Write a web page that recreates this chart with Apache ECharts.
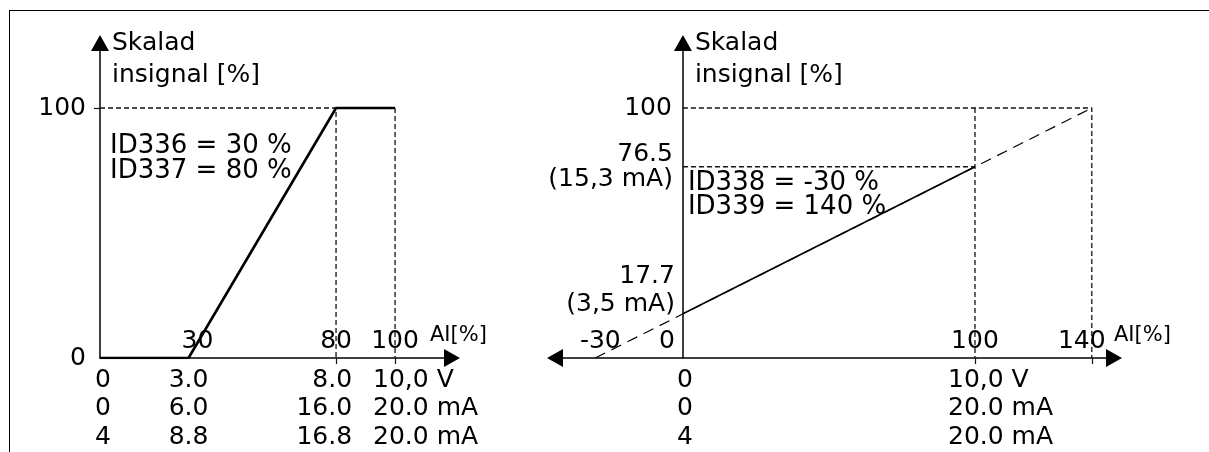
<!DOCTYPE html>
<html>
<head>
<meta charset="utf-8">
<script src="https://cdn.jsdelivr.net/npm/echarts@6/dist/echarts.min.js"></script>
<style>
  html, body { margin: 0; padding: 0; background: #fff; }
  #chart { width: 1209px; height: 452px; }
  #frame { position: absolute; left: 9px; top: 10px; right: 0; bottom: 0;
           border-left: 1.5px solid #000; border-top: 1.5px solid #000; pointer-events: none; }
</style>
</head>
<body>
<div id="chart"></div>
<div id="frame"></div>
<script>
// left diagram: ID336 = 30 %, ID337 = 80 %
const leftIn = [0, 30, 80, 100];
const leftOut = [0, 0, 100, 100];
const leftTicks = [30, 80, 100];
const leftParams = ['ID336 = 30 %', 'ID337 = 80 %'];
const leftVolt = ['0', '3.0', '8.0', '10,0 V'];
const leftMa = ['0', '6.0', '16.0', '20.0 mA'];
const leftMa4 = ['4', '8.8', '16.8', '20.0 mA'];

// right diagram: ID338 = -30 %, ID339 = 140 %
const rightIn = [-30, 0, 100, 140];
const rightOut = [0, 17.7, 76.5, 100];
const rightTicks = [-30, 0, 100, 140];
const rightYText = ['17.7\n(3,5 mA)', '76.5\n(15,3 mA)', '100'];
const rightParams = ['ID338 = -30 %', 'ID339 = 140 %'];
const rightCols = [0, 100];
const rightVolt = ['0', '10,0 V'];
const rightMa = ['0', '20.0 mA'];
const rightMa4 = ['4', '20.0 mA'];

const yTitle = 'Skalad\ninsignal [%]';
const xTitle = 'AI[%]';

const FONT = 'DejaVu Sans';
const txt = { fontFamily: FONT, fontSize: 25, color: '#000' };
const axisStroke = { color: '#000', width: 1.5 };
const guideStyle = { color: '#111', width: 1.3, type: [5, 3] };

const chart = echarts.init(document.getElementById('chart'));

function pad(p) {
  return Object.assign({ padding: p }, txt);
}

function xAxisCfg(grid, min, max, ticks, labels, symbols, nameGap, rich, fmt) {
  return {
    gridIndex: grid, type: 'value', min: min, max: max,
    splitLine: { show: false },
    axisLine: { onZero: true, symbol: symbols, symbolSize: [18, 16], lineStyle: axisStroke },
    axisTick: { customValues: ticks, length: 6, lineStyle: { color: '#111', width: 1.2 } },
    axisLabel: Object.assign({ customValues: labels, inside: true, margin: 4, rich: rich, formatter: fmt }, txt),
    name: xTitle, nameLocation: 'end', nameGap: nameGap,
    nameTextStyle: { fontFamily: FONT, fontSize: 21, color: '#000', align: 'left',
                     verticalAlign: 'bottom', padding: [0, 0, 12, 0] }
  };
}

function yAxisCfg(grid, labels, ticks) {
  return {
    gridIndex: grid, type: 'value', min: 0, max: 126,
    splitLine: { show: false },
    axisLine: { onZero: true, symbol: ['none', 'triangle'], symbolSize: [18, 16], lineStyle: axisStroke },
    axisTick: { show: ticks.length > 0, customValues: ticks, length: 6, lineStyle: { color: '#111', width: 1.2 } },
    axisLabel: Object.assign({ show: labels.length > 0, customValues: labels, margin: 14 }, txt),
    name: yTitle, nameLocation: 'end', nameGap: 16,
    nameTextStyle: Object.assign({}, txt, { fontSize: 25, align: 'left', verticalAlign: 'top',
                                            lineHeight: 32, padding: [0, 0, 0, 12] })
  };
}

function lineSeries(grid, pts, style, z) {
  return { type: 'line', xAxisIndex: grid, yAxisIndex: grid, data: pts, symbol: 'none',
           lineStyle: style, silent: true, z: z };
}

function textSeries(grid, items) {
  return {
    type: 'scatter', xAxisIndex: grid, yAxisIndex: grid, symbolSize: 0, clip: false, silent: true, z: 5,
    itemStyle: { opacity: 1 },
    data: items.map(it => ({
      value: [it.x, it.y],
      label: Object.assign({ show: true, position: 'inside', formatter: it.text, opacity: 1 }, txt, it.style)
    }))
  };
}

const leftPts = leftIn.map((v, i) => [v, leftOut[i]]);
const rightPts = rightIn.map((v, i) => [v, rightOut[i]]);

// dashed helper lines from the corner points
const leftGuides = [
  [[0, leftOut[2]], leftPts[2], [leftIn[2], 0]],
  [leftPts[3], [leftIn[3], 0]]
];
const rightGuides = [
  [[0, rightOut[3]], rightPts[3], [rightIn[3], 0]],
  [[rightIn[2], rightOut[3]], [rightIn[2], 0]],
  [[0, rightOut[2]], rightPts[2]]
];

const rowStyle = { verticalAlign: 'top', lineHeight: 28.5 };
const leftColStyle = [
  { align: 'center', offset: [3, 8] },
  { align: 'center', offset: [0, 8] },
  { align: 'right', offset: [16, 8] },
  { align: 'left', offset: [-22, 8] }
];
const rightColStyle = [
  { align: 'center', offset: [2, 8] },
  { align: 'left', offset: [-27, 8] }
];

const leftTexts = leftIn.map((x, i) => ({
  x: x, y: 0, text: [leftVolt[i], leftMa[i], leftMa4[i]].join('\n'),
  style: Object.assign({}, rowStyle, leftColStyle[i])
}));
leftTexts.push({ x: 0, y: leftOut[2], text: leftParams.join('\n'),
  style: { fontSize: 26, align: 'left', verticalAlign: 'top', lineHeight: 25, offset: [10, 26] } });

const rightTexts = rightCols.map((x, i) => ({
  x: x, y: 0, text: [rightVolt[i], rightMa[i], rightMa4[i]].join('\n'),
  style: Object.assign({}, rowStyle, rightColStyle[i])
}));
rightTexts.push({ x: 0, y: rightOut[2], text: rightParams.join('\n'),
  style: { fontSize: 26, align: 'left', verticalAlign: 'top', lineHeight: 24, offset: [5, 4] } });
rightTexts.push({ x: 0, y: rightOut[3], text: rightYText[2],
  style: { align: 'right', verticalAlign: 'middle', offset: [-11, 0] } });
rightTexts.push({ x: 0, y: rightOut[2], text: rightYText[1],
  style: { align: 'right', verticalAlign: 'middle', lineHeight: 25, offset: [-10, 0] } });
rightTexts.push({ x: 0, y: rightOut[1], text: rightYText[0],
  style: { align: 'right', verticalAlign: 'bottom', lineHeight: 28, offset: [-8, 5] } });

const series = [];
leftGuides.forEach(g => series.push(lineSeries(0, g, guideStyle, 1)));
rightGuides.forEach(g => series.push(lineSeries(1, g, guideStyle, 1)));
series.push(lineSeries(0, leftPts, { color: '#000', width: 2.6 }, 3));
series.push(lineSeries(1, [rightPts[0], rightPts[3]], { color: '#000', width: 1.2, type: [11, 7] }, 2));
series.push(lineSeries(1, [rightPts[1], rightPts[2]], { color: '#000', width: 1.5 }, 3));
series.push(textSeries(0, leftTexts));
series.push(textSeries(1, rightTexts));

const option = {
  animation: false,
  backgroundColor: '#fff',
  grid: [
    { left: 100, top: 43, width: 352, height: 315, containLabel: false, outerBoundsMode: 'none' },
    { left: 555, top: 43, width: 559, height: 315, containLabel: false, outerBoundsMode: 'none' }
  ],
  xAxis: [
    xAxisCfg(0, 0, 119.3, [80, 100], leftTicks, ['none', 'triangle'], -22,
      { s: pad([0, 0, 0, 18]) },
      v => (v === 30 ? '{s|30}' : String(v))),
    xAxisCfg(1, -43.8, 147.6, [100, 140], rightTicks, ['triangle', 'triangle'], 0,
      { a: pad([0, 0, 0, 10]), b: pad([0, 32, 0, 0]), c: pad([0, 20, 0, 0]) },
      v => (v === -30 ? '{a|-30}' : v === 0 ? '{b|0}' : v === 140 ? '{c|140}' : String(v)))
  ],
  yAxis: [
    yAxisCfg(0, [0, 100], [100]),
    yAxisCfg(1, [], [])
  ],
  series: series
};

chart.setOption(option);
</script>
</body>
</html>
